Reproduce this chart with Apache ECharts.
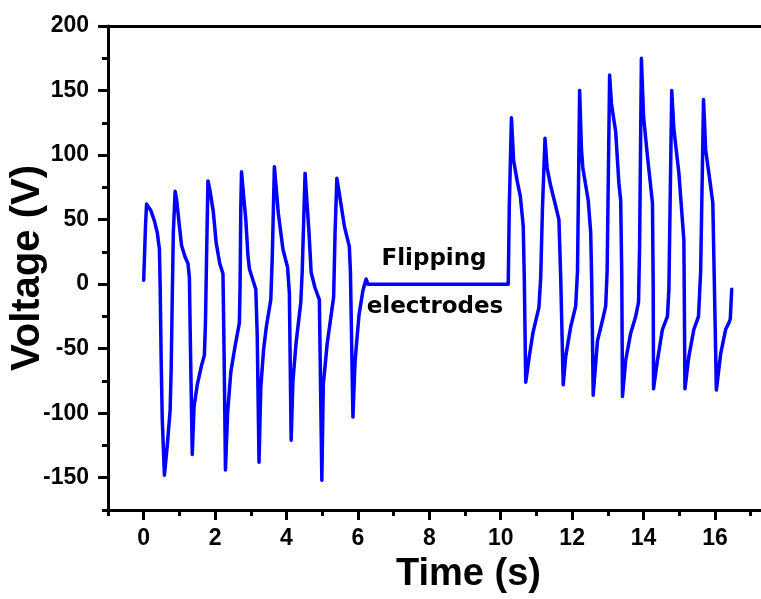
<!DOCTYPE html>
<html>
<head>
<meta charset="utf-8">
<title>Voltage vs Time</title>
<script src="https://cdn.jsdelivr.net/npm/echarts@6/dist/echarts.min.js"></script>
<style>
  html, body { margin: 0; padding: 0; background: #fff; }
  #chart { width: 761px; height: 599px; }
</style>
</head>
<body>
<div id="chart"></div>
<script>
// Output voltage trace, before and after flipping the electrodes
const timeData = [
  0.00, 0.05, 0.08, 0.12, 0.20, 0.30, 0.38, 0.44, 0.46, 0.49, 0.52, 0.58, 0.66, 0.74, 0.77, 0.80, 0.83, 0.88,
  0.92, 1.00, 1.06, 1.16, 1.24, 1.28, 1.31, 1.36, 1.41, 1.50, 1.62, 1.70, 1.73, 1.76, 1.80,
  1.86, 1.95, 2.03, 2.13, 2.22, 2.25, 2.29, 2.35, 2.44, 2.56, 2.68, 2.70, 2.72, 2.74,
  2.78, 2.86, 2.92, 2.96, 3.06, 3.14, 3.18, 3.23, 3.28, 3.36, 3.44, 3.56, 3.60, 3.66,
  3.70, 3.77, 3.90, 4.03, 4.08, 4.13, 4.18, 4.27, 4.40, 4.44, 4.52,
  4.57, 4.63, 4.69, 4.80, 4.92, 4.99, 5.03, 5.14, 5.26, 5.32, 5.36, 5.41,
  5.48, 5.62, 5.76, 5.79, 5.86, 5.92, 6.03, 6.14, 6.23, 6.28,
  10.21, 10.24, 10.30,
  10.36, 10.46, 10.55, 10.63, 10.66, 10.70, 10.80, 10.90, 11.07, 11.12, 11.17, 11.24,
  11.30, 11.40, 11.50, 11.63, 11.68, 11.75, 11.82, 11.96, 12.10, 12.15, 12.21,
  12.26, 12.30, 12.45, 12.52, 12.55, 12.59, 12.71, 12.85, 12.94, 12.98, 13.05,
  13.10, 13.22, 13.31, 13.36, 13.39, 13.41, 13.50, 13.64, 13.78, 13.86, 13.89, 13.94,
  14.00, 14.11, 14.25, 14.27, 14.28, 14.39, 14.53, 14.67, 14.71, 14.79,
  14.85, 14.99, 15.13, 15.16, 15.27, 15.41, 15.54, 15.60, 15.68,
  15.74, 15.83, 15.94, 15.97, 16.04, 16.16, 16.30, 16.39, 16.43, 16.47
];
const voltageData = [
  3, 45, 62, 63, 57, 49, 40, 27, 0, -60, -105, -148, -125, -98, -65, -10, 40, 72,
  66, 45, 30, 21, 16, 5, -50, -132, -95, -78, -63, -55, -30, 20, 80,
  72, 56, 32, 16, 8, -50, -144, -100, -68, -48, -30, 0, 60, 87,
  74, 50, 22, 12, 3, -4, -40, -138, -80, -50, -32, -12, 20, 91,
  78, 55, 27, 13, -7, -121, -75, -45, -14, 10, 86,
  65, 40, 9, -3, -12, -152, -78, -46, -22, -10, 40, 82,
  70, 45, 29, 10, -103, -60, -24, -5, 4, 0,
  0, 60, 129,
  96, 80, 68, 45, 5, -76, -56, -38, -18, 5, 60, 113,
  90, 76, 65, 50, 5, -78, -56, -33, -17, 10, 150,
  105, 90, 65, 40, 0, -86, -44, -28, -17, 10, 162,
  140, 118, 78, 65, 8, -87, -59, -38, -25, -14, 30, 175,
  130, 99, 63, 0, -81, -59, -35, -25, -4, 150,
  120, 86, 34, -81, -56, -35, -25, 10, 143,
  104, 86, 63, 20, -82, -54, -35, -30, -27, -4
];

// Tick positions
const xMajorTicks = [0, 2, 4, 6, 8, 10, 12, 14, 16];
const xMinorTicks = [-1, 1, 3, 5, 7, 9, 11, 13, 15, 17];
const yMajorTicks = [-150, -100, -50, 0, 50, 100, 150, 200];
const yMinorTicks = [-175, -125, -75, -25, 25, 75, 125, 175];

// The frame runs past the right edge of the canvas
const xRange = [-1, 17.29];
const yRange = [-175, 200];

const annotationLines = ['Flipping', 'electrodes'];

const seriesData = timeData.map((t, i) => [t, voltageData[i]]);

const labelFont = {
  fontFamily: '"Liberation Sans", Arial, sans-serif',
  fontWeight: 'bold',
  fontSize: 23,
  color: '#000'
};
const titleFont = {
  fontFamily: '"Liberation Sans", Arial, sans-serif',
  fontWeight: 'bold',
  color: '#000'
};

const frameLine = { color: '#000', width: 3 };
const tickLine = { color: '#000', width: 3 };

const chart = echarts.init(document.getElementById('chart'), null, { renderer: 'canvas' });

chart.setOption({
  animation: false,
  backgroundColor: '#fff',
  grid: {
    left: 107, top: 26, right: 0, bottom: 88,
    show: false,
    containLabel: false
  },
  xAxis: [
    {
      type: 'value', min: xRange[0], max: xRange[1], position: 'bottom',
      axisLine: { show: true, onZero: false, lineStyle: frameLine },
      axisTick: { show: true, customValues: xMajorTicks, length: 10, lineStyle: tickLine },
      axisLabel: Object.assign({ customValues: xMajorTicks, margin: 17 }, labelFont),
      splitLine: { show: false },
      name: 'Time (s)', nameLocation: 'middle', nameGap: 46, nameMoveOverlap: false,
      nameTextStyle: Object.assign({ fontSize: 38, padding: [0, 0, 0, 68] }, titleFont)
    },
    {
      type: 'value', min: xRange[0], max: xRange[1], position: 'bottom',
      axisLine: { show: false, onZero: false },
      axisTick: { show: true, customValues: xMinorTicks, length: 6, lineStyle: tickLine },
      axisLabel: { show: false },
      splitLine: { show: false }
    },
    {
      // top frame line
      type: 'value', min: xRange[0], max: xRange[1], position: 'top',
      axisLine: { show: true, onZero: false, lineStyle: frameLine },
      axisTick: { show: false },
      axisLabel: { show: false },
      splitLine: { show: false }
    }
  ],
  yAxis: [
    {
      type: 'value', min: yRange[0], max: yRange[1], position: 'left',
      axisLine: { show: true, onZero: false, lineStyle: frameLine },
      axisTick: { show: true, customValues: yMajorTicks, length: 10, lineStyle: tickLine },
      axisLabel: Object.assign({ customValues: yMajorTicks, margin: 19 }, labelFont),
      splitLine: { show: false },
      name: 'Voltage (V)', nameLocation: 'middle', nameGap: 60, nameMoveOverlap: false,
      nameTextStyle: Object.assign({ fontSize: 40 }, titleFont)
    },
    {
      type: 'value', min: yRange[0], max: yRange[1], position: 'left',
      axisLine: { show: false, onZero: false },
      axisTick: { show: true, customValues: yMinorTicks, length: 6, lineStyle: tickLine },
      axisLabel: { show: false },
      splitLine: { show: false }
    }
  ],
  series: [
    {
      type: 'line',
      xAxisIndex: 0, yAxisIndex: 0,
      data: seriesData,
      showSymbol: false,
      smooth: false,
      lineStyle: { color: '#0000ff', width: 3.5, join: 'round', cap: 'round' },
      itemStyle: { color: '#0000ff' }
    }
  ],
  graphic: [
    {
      type: 'text', x: 434, y: 259,
      style: {
        text: annotationLines[0], textAlign: 'center', textVerticalAlign: 'middle',
        font: 'bold 23px "DejaVu Sans", sans-serif', fill: '#000'
      }
    },
    {
      type: 'text', x: 435, y: 307,
      style: {
        text: annotationLines[1], textAlign: 'center', textVerticalAlign: 'middle',
        font: 'bold 23px "DejaVu Sans", sans-serif', fill: '#000'
      }
    }
  ]
});
</script>
</body>
</html>
